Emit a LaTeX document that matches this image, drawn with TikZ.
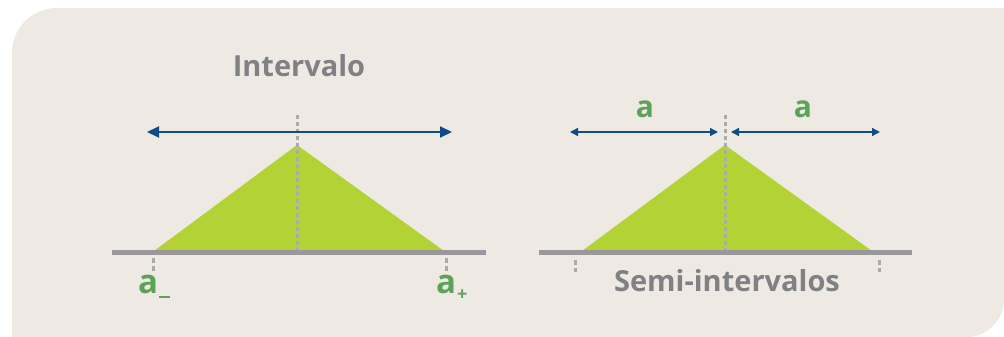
\documentclass[tikz,border=0pt]{standalone}
\usepackage{fontspec}
\setmainfont{Open Sans}
\usetikzlibrary{arrows.meta}
\definecolor{bgc}{HTML}{EEEAE3}
\definecolor{trig}{HTML}{B2D235}
\definecolor{basec}{HTML}{9A989C}
\definecolor{dashc}{HTML}{A9AAAD}
\definecolor{bluec}{HTML}{0E4C86}
\definecolor{greent}{HTML}{5DA259}
\definecolor{grayt}{HTML}{808185}
\tikzset{
  baseline line/.style={draw=basec, line width=5pt},
  tri/.style={fill=trig, draw=none},
  dashv/.style={draw=dashc, line width=3pt, dash pattern=on 4pt off 3pt},
  tick/.style={draw=dashc, line width=3pt, dash pattern=on 5pt off 3pt},
  bigarrow/.style={draw=bluec, line width=2pt, {Triangle[length=12pt,width=11pt]}-{Triangle[length=12pt,width=11pt]}},
  smallarrow/.style={draw=bluec, line width=1.4pt, {Triangle[length=8pt,width=8pt]}-{Triangle[length=8pt,width=8pt]}},
  title/.style={text=grayt, font=\fontsize{29}{29}\selectfont\bfseries, anchor=base, inner sep=0pt},
  lbl/.style={text=greent, font=\fontsize{33}{33}\selectfont\bfseries, anchor=base west, inner sep=0pt},
  albl/.style={text=greent, font=\fontsize{30}{30}\selectfont\bfseries, anchor=base, inner sep=0pt},
}
\begin{document}
\begin{tikzpicture}[x=1pt,y=-1pt]
\useasboundingbox (0,0) rectangle (1004,337);
% background panel
\fill[bgc] (12,337) -- (12,53) .. controls (12,28) and (32,8) .. (57,8) -- (1004,8) -- (1004,300)
  .. controls (1004,320) and (987,337) .. (967,337) -- cycle;

% ---------- left diagram ----------
\coordinate (L1) at (154,251);
\coordinate (LA) at (297,145);
\coordinate (L2) at (444,251);
\fill[tri] (L1) -- (LA) -- (L2) -- cycle;
\coordinate (LbS) at (112,252);
\coordinate (LbE) at (486,252);
\draw[baseline line] (LbS) -- (LbE);
\coordinate (LdT) at (297,115);
\coordinate (LdB) at (297,250);
\draw[dashv] (LdT) -- (LdB);
\coordinate (LarS) at (147,132);
\coordinate (LarE) at (452,132);
\draw[bigarrow] (LarS) -- (LarE);
\coordinate (Lt1a) at (153,258);
\coordinate (Lt1b) at (153,272);
\draw[tick] (Lt1a) -- (Lt1b);
\coordinate (Lt2a) at (446,258);
\coordinate (Lt2b) at (446,272);
\draw[tick] (Lt2a) -- (Lt2b);
\node[title] (intervalo) at (299,77) {Intervalo};
\node[lbl] (amin) at (138,293) {a\kern1pt\rule[-5pt]{11pt}{1.6pt}};
\node[lbl] (aplus) at (436,293) {a\kern1pt\raisebox{-7pt}{\fontsize{18}{18}\selectfont +}};

% ---------- right diagram ----------
\coordinate (R1) at (582,251);
\coordinate (RA) at (725,145);
\coordinate (R2) at (872,251);
\fill[tri] (R1) -- (RA) -- (R2) -- cycle;
\coordinate (RbS) at (539,252);
\coordinate (RbE) at (912,252);
\draw[baseline line] (RbS) -- (RbE);
\coordinate (RdT) at (725,115);
\coordinate (RdB) at (725,250);
\draw[dashv] (RdT) -- (RdB);
\coordinate (Ra1S) at (570,132);
\coordinate (Ra1E) at (718,132);
\draw[smallarrow] (Ra1S) -- (Ra1E);
\coordinate (Ra2S) at (731,132);
\coordinate (Ra2E) at (880,132);
\draw[smallarrow] (Ra2S) -- (Ra2E);
\coordinate (Rt1a) at (575,260);
\coordinate (Rt1b) at (575,272);
\draw[tick] (Rt1a) -- (Rt1b);
\coordinate (Rt2a) at (879,260);
\coordinate (Rt2b) at (879,272);
\draw[tick] (Rt2a) -- (Rt2b);
\node[albl] (aL) at (645,117) {a};
\node[albl] (aR) at (803,117) {a};
\node[title] (semi) at (727,291) {Semi-intervalos};
\end{tikzpicture}
\end{document}
